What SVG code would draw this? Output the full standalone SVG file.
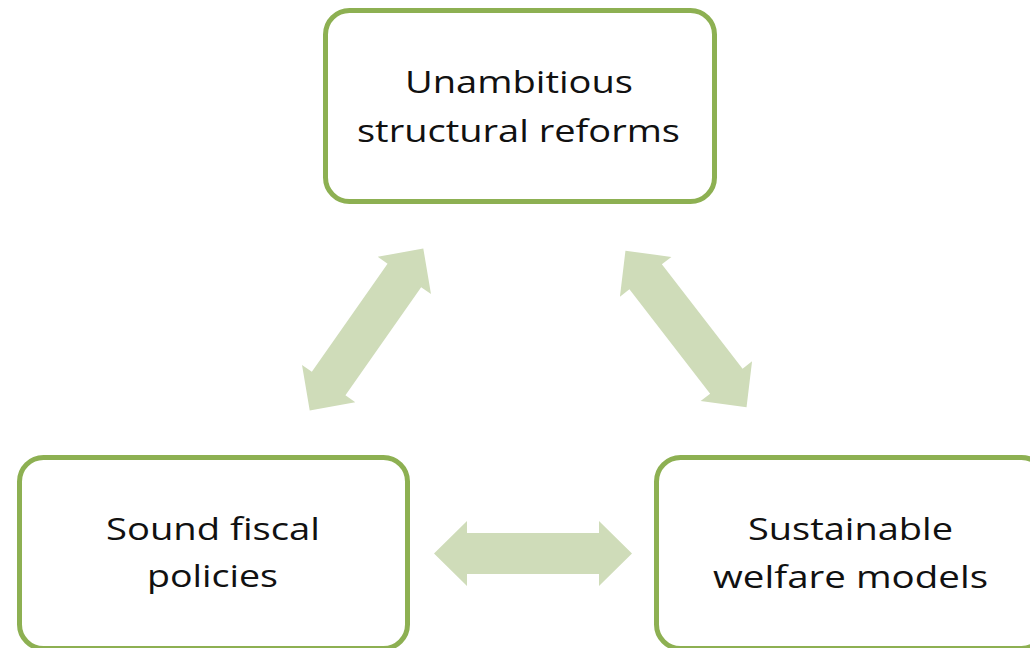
<svg xmlns="http://www.w3.org/2000/svg" width="1030" height="648" viewBox="0 0 1030 648">
<style>
.box{fill:#ffffff;stroke:#8db052;stroke-width:5}
.lbl{font-family:"Open Sans","Noto Sans",sans-serif;font-size:31px;fill:#111111;text-anchor:middle;font-variant-ligatures:none}
.arr{fill:#cfdcb9}
</style>
<defs>
<path id="dbl" d="M -99 0 L -66 -32.5 L -66 -20.5 L 66 -20.5 L 66 -32.5 L 99 0 L 66 32.5 L 66 20.5 L -66 20.5 L -66 32.5 Z"/>
</defs>
<rect width="1030" height="648" fill="#ffffff"/>
<g id="connectors">
<use href="#dbl" class="arr" transform="translate(366.5 329.5) rotate(-55)"/>
<use href="#dbl" class="arr" transform="translate(686 329) rotate(52.3)"/>
<use href="#dbl" class="arr" transform="translate(533 553.5)"/>
</g>
<g id="node-reforms">
<rect class="box" x="325.5" y="10.5" width="389" height="191" rx="24"/>
<text class="lbl" x="519" y="93" textLength="228" lengthAdjust="spacingAndGlyphs">Unambitious</text>
<text class="lbl" x="518.5" y="142" textLength="323" lengthAdjust="spacingAndGlyphs">structural reforms</text>
</g>
<g id="node-fiscal">
<rect class="box" x="19.5" y="457.5" width="388" height="191" rx="24"/>
<text class="lbl" x="213" y="540" textLength="214" lengthAdjust="spacingAndGlyphs">Sound fiscal</text>
<text class="lbl" x="212.5" y="587" textLength="131" lengthAdjust="spacingAndGlyphs">policies</text>
</g>
<g id="node-welfare">
<rect class="box" x="656.5" y="457.5" width="389" height="191" rx="24"/>
<text class="lbl" x="850.5" y="540" textLength="205" lengthAdjust="spacingAndGlyphs">Sustainable</text>
<text class="lbl" x="850.5" y="588" textLength="275" lengthAdjust="spacingAndGlyphs">welfare models</text>
</g>
</svg>
